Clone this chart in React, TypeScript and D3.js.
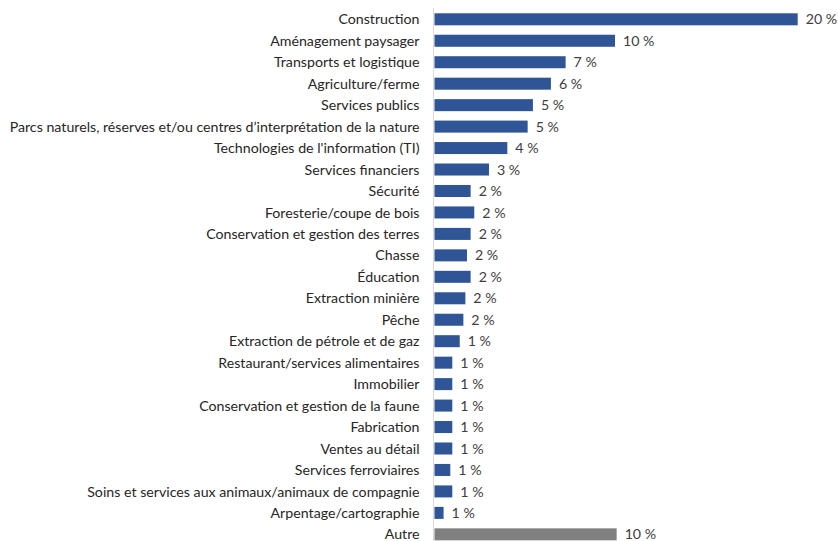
import React from "react";
import * as d3 from "d3";

const categories = [
  "Construction",
  "Aménagement paysager",
  "Transports et logistique",
  "Agriculture/ferme",
  "Services publics",
  "Parcs naturels, réserves et/ou centres d’interprétation de la nature",
  "Technologies de l'information (TI)",
  "Services financiers",
  "Sécurité",
  "Foresterie/coupe de bois",
  "Conservation et gestion des terres",
  "Chasse",
  "Éducation",
  "Extraction minière",
  "Pêche",
  "Extraction de pétrole et de gaz",
  "Restaurant/services alimentaires",
  "Immobilier",
  "Conservation et gestion de la faune",
  "Fabrication",
  "Ventes au détail",
  "Services ferroviaires",
  "Soins et services aux animaux/animaux de compagnie",
  "Arpentage/cartographie",
  "Autre",
];

const values = [
  20.0, 9.94, 7.22, 6.41, 5.42, 5.13, 4.01, 3.0, 1.99, 2.19, 1.99, 1.79, 1.99,
  1.7, 1.59, 1.39, 0.98, 0.98, 0.98, 0.98, 0.98, 0.87, 0.98, 0.5, 10.03,
];

const otherCategory = "Autre";

export default function App() {
  const W = 838;
  const H = 541;
  const x = d3.scaleLinear().domain([0, 20]).range([434.5, 797.7]);
  const y = d3
    .scaleBand<string>()
    .domain(categories)
    .range([8.57, 545.07])
    .paddingInner(0.44)
    .paddingOuter(0.22);
  const font = "Lato, 'Open Sans', sans-serif";
  return (
    <div style={{ position: "absolute", left: 0, top: 0 }}>
      <svg width={W} height={H} style={{ display: "block" }}>
        <rect width={W} height={H} fill="#fff" />
        {categories.map((c, i) => {
          const yy = y(c)!;
          const bw = y.bandwidth();
          const v = values[i];
          return (
            <g key={c}>
              <rect
                x={x(0)}
                y={yy}
                width={x(v) - x(0)}
                height={bw}
                fill={c === otherCategory ? "#808080" : "#2F5597"}
              />
              <text
                x={419.5}
                y={yy + bw / 2}
                dy="0.36em"
                textAnchor="end"
                fontFamily={font}
                fontSize={14.2}
                fill="#262626"
              >
                {c}
              </text>
              <text
                x={x(v) + 8}
                y={yy + bw / 2}
                dy="0.36em"
                fontFamily={font}
                fontSize={14.2}
                fill="#404040"
              >
                {`${Math.round(v)}\u00a0%`}
              </text>
            </g>
          );
        })}
        <line
          x1={x(0) - 1}
          x2={x(0) - 1}
          y1={8}
          y2={H}
          stroke="#d9d9d9"
          strokeWidth={1}
        />
      </svg>
    </div>
  );
}
